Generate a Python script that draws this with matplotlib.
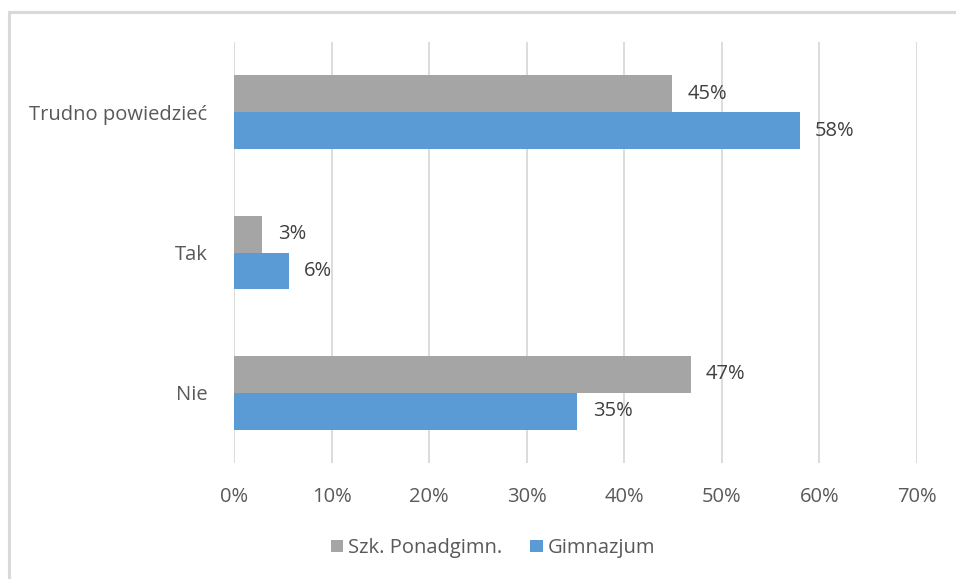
import numpy as np
import matplotlib.pyplot as plt
from matplotlib.patches import Rectangle

# data (bottom to top, as drawn)
categories = ['Nie', 'Tak', 'Trudno powiedzieć']
ponadgimn = [46.8, 2.9, 44.9]
gimnazjum = [35.2, 5.6, 58.0]
ponadgimn_labels = ['47%', '3%', '45%']
gimnazjum_labels = ['35%', '6%', '58%']
series_names = ['Szk. Ponadgimn.', 'Gimnazjum']
xticks = [0, 10, 20, 30, 40, 50, 60, 70]

gray = '#A5A5A5'
blue = '#5B9BD5'
txt = '#595959'
fs = 14.5

plt.rcParams['font.family'] = ['Open Sans', 'DejaVu Sans']

fig = plt.figure(figsize=(9.56, 5.79), dpi=100)
ax = fig.add_axes([234/956, 1 - 463/579, (917-234)/956, (463-42)/579])

# outer chart border
fig.patches.append(Rectangle((9/956, -0.05), 1.2, 1 - 11.5/579 + 0.05,
                             transform=fig.transFigure, fill=False,
                             edgecolor='#D9D9D9', linewidth=2.2))

y = np.arange(len(categories))
h = 37 / 141
ax.barh(y + h/2, ponadgimn, height=h, color=gray, label=series_names[0], zorder=3)
ax.barh(y - h/2, gimnazjum, height=h, color=blue, label=series_names[1], zorder=3)

for yi, v, lab in zip(y, ponadgimn, ponadgimn_labels):
    ax.annotate(lab, xy=(v, yi + h/2), xytext=(11, 0), textcoords='offset points',
                ha='left', va='center', fontsize=fs, color='#404040')
for yi, v, lab in zip(y, gimnazjum, gimnazjum_labels):
    ax.annotate(lab, xy=(v, yi - h/2), xytext=(11, 0), textcoords='offset points',
                ha='left', va='center', fontsize=fs, color='#404040')

ax.set_xlim(0, 70)
ax.set_ylim(-0.5, 2.5)
ax.set_xticks(xticks)
ax.set_xticklabels([f'{t}%' for t in xticks])
ax.set_yticks(y)
ax.set_yticklabels(categories)
ax.tick_params(axis='both', length=0, labelsize=fs, colors=txt)
ax.tick_params(axis='x', pad=17)
ax.tick_params(axis='y', pad=19)
ax.grid(axis='x', color='#D9D9D9', linewidth=1.3, zorder=0)
for s in ax.spines.values():
    s.set_visible(False)

leg = fig.legend(loc='center', bbox_to_anchor=(493/956, 1 - 548/579), ncol=2,
                 frameon=False, fontsize=fs, handlelength=0.6, handleheight=0.6,
                 handletextpad=0.25, columnspacing=1.4)
for t in leg.get_texts():
    t.set_color(txt)

fig.savefig('out.png', dpi=100)
